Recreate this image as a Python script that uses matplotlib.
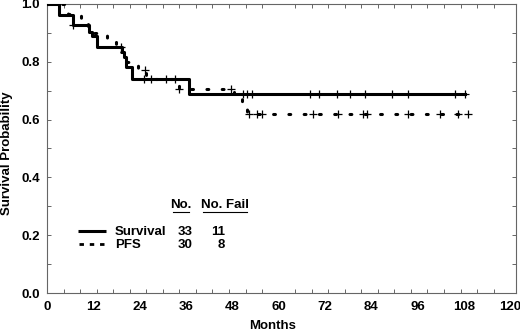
import matplotlib
matplotlib.use("Agg")
import matplotlib.pyplot as plt
import numpy as np

plt.rcParams['font.family'] = ['Liberation Sans', 'DejaVu Sans']
plt.rcParams['font.weight'] = 'bold'

# ---- data ----
os_times = [0, 3.1, 6.8, 10.9, 11.7, 12.9, 19.4, 19.9, 20.5, 22.1, 36.9, 108.3]
os_surv = [1.0, 0.962, 0.927, 0.902, 0.890, 0.852, 0.835, 0.818, 0.783, 0.739, 0.690, 0.690]
os_cens_t = [6.8, 19.3, 25.1, 26.9, 30.8, 33.2, 50.9, 51.7, 53.0, 68.1, 70.5, 75.2,
             78.5, 82.4, 89.3, 93.6, 105.7, 108.3]
os_cens_s = [0.927, 0.852, 0.739, 0.739, 0.739, 0.739, 0.690, 0.690, 0.690, 0.690,
             0.690, 0.690, 0.690, 0.690, 0.690, 0.690, 0.690, 0.690]

pfs_times = [0, 5.5, 8.8, 10.6, 15.5, 17.8, 20.5, 23.5, 25.6, 34.2, 48.5, 50.5, 51.8, 109.1]
pfs_surv = [1.0, 0.967, 0.933, 0.900, 0.867, 0.833, 0.800, 0.772, 0.739, 0.706,
            0.675, 0.646, 0.618, 0.618]
pfs_cens_t = [25.4, 34.3, 47.7, 52.4, 54.3, 55.8, 68.8, 75.5, 81.9, 82.8, 93.6,
              101.8, 106.6, 109.1]
pfs_cens_s = [0.772, 0.706, 0.706, 0.618, 0.618, 0.618, 0.618, 0.618, 0.618, 0.618,
              0.618, 0.618, 0.618, 0.618]

x_ticks = [0, 12, 24, 36, 48, 60, 72, 84, 96, 108, 120]
y_ticks = [0.0, 0.2, 0.4, 0.6, 0.8, 1.0]

legend_names = ["Survival", "PFS"]
legend_no = ["33", "30"]
legend_fail = ["11", "8"]

W, H = 520, 333
FS = 9.5
fig = plt.figure(figsize=(W / 100, H / 100), dpi=100)
ax = fig.add_axes([47 / W, 1 - 293 / H, (516 - 47) / W, (293 - 4) / H])

lw = 2.2
ax.step(pfs_times, pfs_surv, where='post', color='black', lw=lw,
        dashes=(0.6, 4.4), dash_capstyle='round', zorder=3)
ax.step(os_times, os_surv, where='post', color='black', lw=lw, zorder=4)
ax.plot(os_cens_t, os_cens_s, ls='none', marker='+', ms=5.5, mew=0.9,
        color='black', zorder=5)
ax.plot(pfs_cens_t, pfs_cens_s, ls='none', marker='+', ms=5.5, mew=0.9,
        color='black', zorder=5)

ax.set_xlim(0, 121.5)
ax.set_ylim(0, 1.0)
ax.set_xticks(x_ticks)
ax.set_xticklabels([str(t) for t in x_ticks], fontsize=FS, fontweight='bold')
ax.set_yticks(y_ticks)
ax.set_yticklabels([f"{t:.1f}" for t in y_ticks], fontsize=FS, fontweight='bold')
ax.set_xticks(np.linspace(0, 120, 29), minor=True)
ax.set_yticks(np.arange(0.1, 1.0, 0.2), minor=True)
ax.tick_params(axis='x', which='major', length=0, pad=6)
ax.tick_params(axis='x', which='minor', direction='in', length=3, width=0.7,
               top=True, bottom=True, color='#666666')
ax.tick_params(axis='y', which='both', direction='in', length=3, width=0.7,
               left=True, right=True, color='#666666', pad=5)
for s in ax.spines.values():
    s.set_color('#666666')
    s.set_linewidth(0.8)

fig.text(272.5 / W, 1 - 326 / H, "Months", ha='center', va='center',
         fontsize=FS, fontweight='bold')
fig.text(7.5 / W, 1 - 153 / H, "Survival Probability", ha='center', va='center',
         rotation=90, fontsize=FS, fontweight='bold')

# legend drawn in pixel space overlay
ov = fig.add_axes([0, 0, 1, 1], facecolor='none')
ov.set_xlim(0, W)
ov.set_ylim(H, 0)
ov.axis('off')
ov.text(181, 205, "No.", ha='center', va='center', fontsize=FS, fontweight='bold')
ov.plot([173.3, 188.5], [211.5, 211.5], color='black', lw=0.8)
ov.text(225, 205, "No. Fail", ha='center', va='center', fontsize=FS, fontweight='bold')
ov.plot([203.3, 246.7], [211.5, 211.5], color='black', lw=0.8)

rows_y = [232, 245]
ov.plot([78, 106], [231, 231], color='black', lw=2.2, solid_capstyle='butt')
ov.plot([78.5, 106], [244, 244], color='black', lw=2.0, dashes=(1.6, 2.1),
        dash_capstyle='butt')
for i, name in enumerate(legend_names):
    ov.text(115, rows_y[i], name, ha='left', va='center', fontsize=FS, fontweight='bold')
    ov.text(185, rows_y[i], legend_no[i], ha='center', va='center', fontsize=FS,
            fontweight='bold')
ov.text(218, rows_y[0], legend_fail[0], ha='center', va='center', fontsize=FS,
        fontweight='bold')
ov.text(221, rows_y[1], legend_fail[1], ha='center', va='center', fontsize=FS,
        fontweight='bold')

fig.savefig("out.png", dpi=100)
